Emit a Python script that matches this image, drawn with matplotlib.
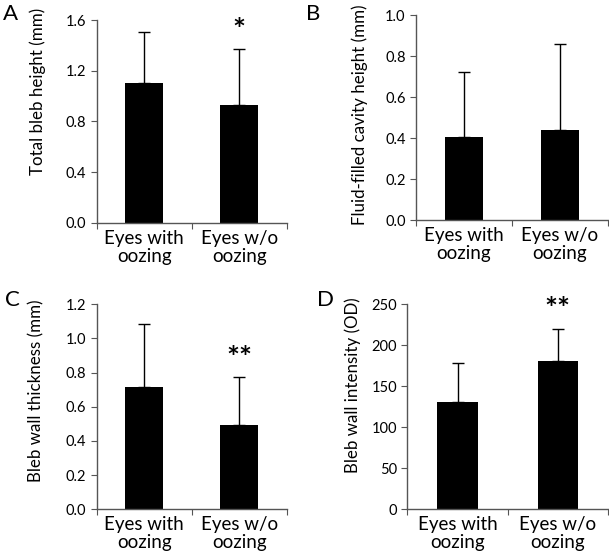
import matplotlib
matplotlib.use('Agg')
import matplotlib.pyplot as plt

plt.rcParams['font.family'] = ['Lato', 'DejaVu Sans']

groups = ['Eyes with\noozing', 'Eyes w/o\noozing']

# panel A - total bleb height (mm)
bleb_height = [1.106, 0.93]
bleb_height_sd = [0.402, 0.441]
# panel B - fluid-filled cavity height (mm)
cavity_height = [0.406, 0.439]
cavity_height_sd = [0.318, 0.418]
# panel C - bleb wall thickness (mm)
wall_thick = [0.717, 0.494]
wall_thick_sd = [0.364, 0.278]
# panel D - bleb wall intensity (OD)
wall_int = [131, 180.5]
wall_int_sd = [46.8, 39.7]

fig = plt.figure(figsize=(6.09, 5.56), dpi=100)

# letter, axes rect, values, sd, ylabel, ylim, yticks, fmt, stars, letter pos, ylabel pos
panels = [
    ('A', [0.159, 0.599, 0.312, 0.365], bleb_height, bleb_height_sd,
     'Total bleb height (mm)', (0, 1.6), [0, 0.4, 0.8, 1.2, 1.6], '{:.1f}', ['', '*'],
     (0.005, 0.992), (-0.268, 0.65)),
    ('B', [0.683, 0.604, 0.315, 0.369], cavity_height, cavity_height_sd,
     'Fluid-filled cavity height (mm)', (0, 1.0), [0, 0.2, 0.4, 0.6, 0.8, 1.0], '{:.1f}', ['', ''],
     (0.503, 0.992), (-0.25, 0.512)),
    ('C', [0.159, 0.084, 0.312, 0.369], wall_thick, wall_thick_sd,
     'Bleb wall thickness (mm)', (0, 1.2), [0, 0.2, 0.4, 0.6, 0.8, 1.0, 1.2], '{:.1f}', ['', '**'],
     (0.008, 0.478), (-0.274, 0.58)),
    ('D', [0.669, 0.084, 0.329, 0.369], wall_int, wall_int_sd,
     'Bleb wall intensity (OD)', (0, 250), [0, 50, 100, 150, 200, 250], '{:.0f}', ['', '**'],
     (0.52, 0.478), (-0.23, 0.605)),
]

for letter, rect, vals, sd, ylab, ylim, yt, fmt, stars, lpos, ylpos in panels:
    ax = fig.add_axes(rect)
    x = [0, 1]
    ax.bar(x, vals, width=0.4, color='black', zorder=2)
    ax.errorbar(x, vals, yerr=[[0, 0], sd], fmt='none', ecolor='black',
                elinewidth=1, capsize=4, capthick=1, zorder=1)
    ax.set_xlim(-0.5, 1.5)
    ax.set_ylim(*ylim)
    ax.set_yticks(yt)
    ax.set_yticklabels([fmt.format(v) for v in yt], fontsize=10.5)
    # excel style: ticks at the category boundaries, labels in the middle
    ax.set_xticks([-0.5, 0.5, 1.5])
    ax.set_xticklabels([])
    ax.set_xticks(x, minor=True)
    ax.set_xticklabels(groups, minor=True, fontsize=13.5, linespacing=1.05)
    ax.tick_params(axis='x', which='minor', length=0, pad=5)
    ax.tick_params(axis='x', which='major', length=4, direction='out', color='#555555')
    ax.tick_params(axis='y', length=4, direction='out', color='#555555')
    for s in ['top', 'right']:
        ax.spines[s].set_visible(False)
    for s in ['left', 'bottom']:
        ax.spines[s].set_color('#555555')
        ax.spines[s].set_linewidth(1)
    ax.set_ylabel(ylab, fontsize=12.2)
    ax.yaxis.set_label_coords(*ylpos)
    for xi, v, e, st in zip(x, vals, sd, stars):
        if st:
            ax.text(xi, v + e + (ylim[1] * 0.02), st, ha='center', va='bottom',
                    fontsize=22, fontweight='bold')
    fig.text(lpos[0], lpos[1], letter, fontsize=16, va='top', ha='left')

fig.savefig('out.png', dpi=100)
